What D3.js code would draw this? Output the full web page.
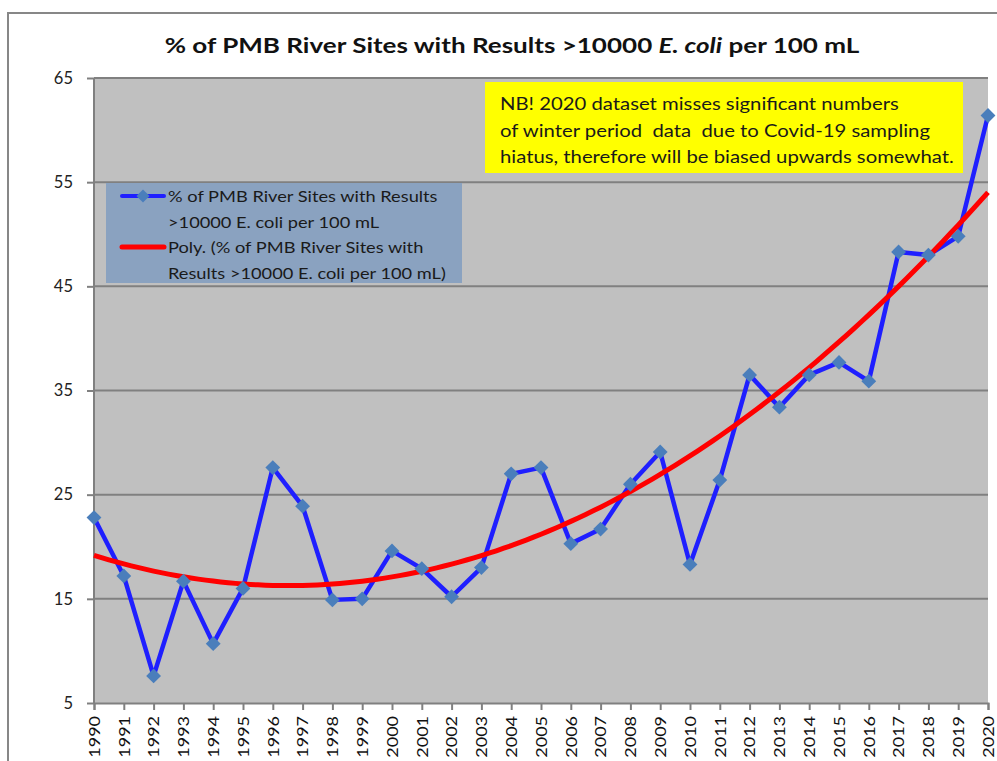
<!DOCTYPE html>
<html>
<head>
<meta charset="utf-8">
<script src="https://cdn.jsdelivr.net/npm/d3@7"></script>
<style>
  body { margin: 0; background: #fff; }
  svg { display: block; font-family: Lato, "Open Sans", sans-serif; }
  text { white-space: pre; }
</style>
</head>
<body>
<svg id="chart"></svg>
<script>
// data
const years = d3.range(1990, 2021);
const pct = [22.8, 17.2, 7.6, 16.7, 10.7, 16.0, 27.6, 23.9, 14.9, 15.0,
             19.6, 17.9, 15.2, 18.0, 27.0, 27.6, 20.3, 21.7, 26.0, 29.1,
             18.3, 26.4, 36.5, 33.4, 36.5, 37.7, 35.9, 48.3, 48.0, 49.8, 61.4];
const yTicks = [5, 15, 25, 35, 45, 55, 65];
const titleParts = ["% of PMB River Sites with Results >10000 ", "E. coli", " per 100 mL"];
const legendLines = [
  ["% of PMB River Sites with Results", ">10000 E. coli per 100 mL"],
  ["Poly. (% of PMB River Sites with", "Results >10000 E. coli per 100 mL)"]
];
const noteLines = [
  "NB! 2020 dataset misses significant numbers",
  "of winter period  data  due to Covid-19 sampling",
  "hiatus, therefore will be biased upwards somewhat."
];

const W = 997, H = 761;
const plot = {left: 94, right: 988, top: 78, bottom: 703};

const svg = d3.select("#chart").attr("width", W).attr("height", H);

// outer chart frame
svg.append("rect")
    .attr("x", 8).attr("y", 13)
    .attr("width", W + 20).attr("height", H + 20)
    .attr("fill", "#fff").attr("stroke", "#878787").attr("stroke-width", 2);

const x = d3.scaleLinear().domain([1990, 2020]).range([plot.left, plot.right]);
const y = d3.scaleLinear().domain([5, 65]).range([plot.bottom, plot.top]);

svg.append("rect")
    .attr("x", plot.left).attr("y", plot.top)
    .attr("width", plot.right - plot.left).attr("height", plot.bottom - plot.top)
    .attr("fill", "#c0c0c0");

// title (the original is a stretched Calibri, so widen it a bit)
const title = svg.append("text")
    .attr("transform", "translate(512,53) scale(1.24,1)")
    .attr("text-anchor", "middle")
    .attr("font-size", 21).attr("font-weight", "bold").attr("fill", "#111");
title.selectAll("tspan").data(titleParts).join("tspan")
    .attr("font-style", (d, i) => i === 1 ? "italic" : null)
    .text(d => d);

// y axis with grid
const yAxis = svg.append("g")
    .attr("transform", "translate(" + plot.left + ",0)")
    .call(d3.axisLeft(y).tickValues(yTicks).tickSize(7).tickPadding(14));
yAxis.select(".domain").remove();
yAxis.selectAll(".tick line").attr("stroke", "#808080").attr("stroke-width", 2);
yAxis.selectAll(".tick text").attr("font-size", 16.5).attr("fill", "#222")
    .attr("font-family", "Lato, sans-serif");
svg.append("g").selectAll("line").data(yTicks.slice(1)).join("line")
    .attr("x1", plot.left).attr("x2", plot.right)
    .attr("y1", d => y(d)).attr("y2", d => y(d))
    .attr("stroke", "#808080").attr("stroke-width", 2);

// x axis
const xAxis = svg.append("g")
    .attr("transform", "translate(0," + plot.bottom + ")")
    .call(d3.axisBottom(x).tickValues(years).tickSize(7).tickFormat(d3.format("d")));
xAxis.select(".domain").attr("stroke", "#808080").attr("stroke-width", 2);
xAxis.selectAll(".tick line").attr("stroke", "#808080").attr("stroke-width", 2);
xAxis.selectAll(".tick text")
    .attr("font-size", 15).attr("fill", "#111")
    .attr("font-family", "Lato, sans-serif")
    .attr("text-anchor", "end")
    .attr("transform", "rotate(-90) translate(-13,0) scale(1.2,1)")
    .attr("x", 0).attr("y", 0).attr("dy", "0.35em");

svg.append("line")
    .attr("x1", plot.left).attr("x2", plot.left)
    .attr("y1", plot.top).attr("y2", plot.bottom)
    .attr("stroke", "#808080").attr("stroke-width", 2);

// polynomial (order 2) trendline, least squares on the series
function polyFit(xs, ys) {
  let s = [0, 0, 0, 0, 0], t = [0, 0, 0];
  xs.forEach((xv, i) => {
    for (let k = 0; k < 5; k++) s[k] += Math.pow(xv, k);
    for (let k = 0; k < 3; k++) t[k] += ys[i] * Math.pow(xv, k);
  });
  const A = [[s[0], s[1], s[2], t[0]], [s[1], s[2], s[3], t[1]], [s[2], s[3], s[4], t[2]]];
  for (let i = 0; i < 3; i++) {
    for (let j = i + 1; j < 3; j++) {
      const f = A[j][i] / A[i][i];
      for (let k = i; k < 4; k++) A[j][k] -= f * A[i][k];
    }
  }
  const c = [0, 0, 0];
  for (let i = 2; i >= 0; i--) {
    let v = A[i][3];
    for (let k = i + 1; k < 3; k++) v -= A[i][k] * c[k];
    c[i] = v / A[i][i];
  }
  return c;
}
const idx = years.map(d => d - 1990 + 1);
const coef = polyFit(idx, pct);
const trend = d3.range(0, 30.01, 0.25).map(d => ({
  year: 1990 + d,
  value: coef[0] + coef[1] * (d + 1) + coef[2] * (d + 1) * (d + 1)
}));

const data = years.map((d, i) => ({year: d, value: pct[i]}));
const line = d3.line().x(d => x(d.year)).y(d => y(d.value));

svg.append("path").datum(data)
    .attr("d", line).attr("fill", "none")
    .attr("stroke", "#1f1fff").attr("stroke-width", 4.5)
    .attr("stroke-linejoin", "round");

svg.append("path").datum(trend)
    .attr("d", line).attr("fill", "none")
    .attr("stroke", "#ff0000").attr("stroke-width", 5);

const diamond = d3.symbol().type(d3.symbolDiamond2).size(140);
svg.append("g").selectAll("path").data(data).join("path")
    .attr("transform", d => "translate(" + x(d.year) + "," + y(d.value) + ")")
    .attr("d", diamond)
    .attr("fill", "#4a7ebb");

// legend
const lg = svg.append("g");
lg.append("rect")
    .attr("x", 106).attr("y", 183).attr("width", 356).attr("height", 100)
    .attr("fill", "#8aa2c0");
lg.append("line").attr("x1", 122).attr("x2", 164).attr("y1", 196).attr("y2", 196)
    .attr("stroke", "#1f1fff").attr("stroke-width", 4).attr("stroke-linecap", "round");
lg.append("path").attr("transform", "translate(143,196)")
    .attr("d", d3.symbol().type(d3.symbolDiamond2).size(110))
    .attr("fill", "#4a7ebb");
lg.append("line").attr("x1", 122).attr("x2", 164).attr("y1", 247).attr("y2", 247)
    .attr("stroke", "#ff0000").attr("stroke-width", 5).attr("stroke-linecap", "round");
legendLines.forEach((lines, i) => {
  lines.forEach((s, j) => {
    lg.append("text")
        .attr("transform", "translate(168," + (202 + i * 51 + j * 25.5) + ") scale(1.14,1)")
        .attr("font-size", 16).attr("fill", "#1a1a1a")
        .text(s);
  });
});

// annotation
const note = svg.append("g");
note.append("rect")
    .attr("x", 485).attr("y", 82).attr("width", 478).attr("height", 91)
    .attr("fill", "#ffff00");
noteLines.forEach((s, i) => {
  note.append("text")
      .attr("transform", "translate(500," + (110 + i * 26.5) + ") scale(1.16,1)")
      .attr("font-size", 17.5).attr("fill", "#1a1a1a")
      .text(s);
});
</script>
</body>
</html>
